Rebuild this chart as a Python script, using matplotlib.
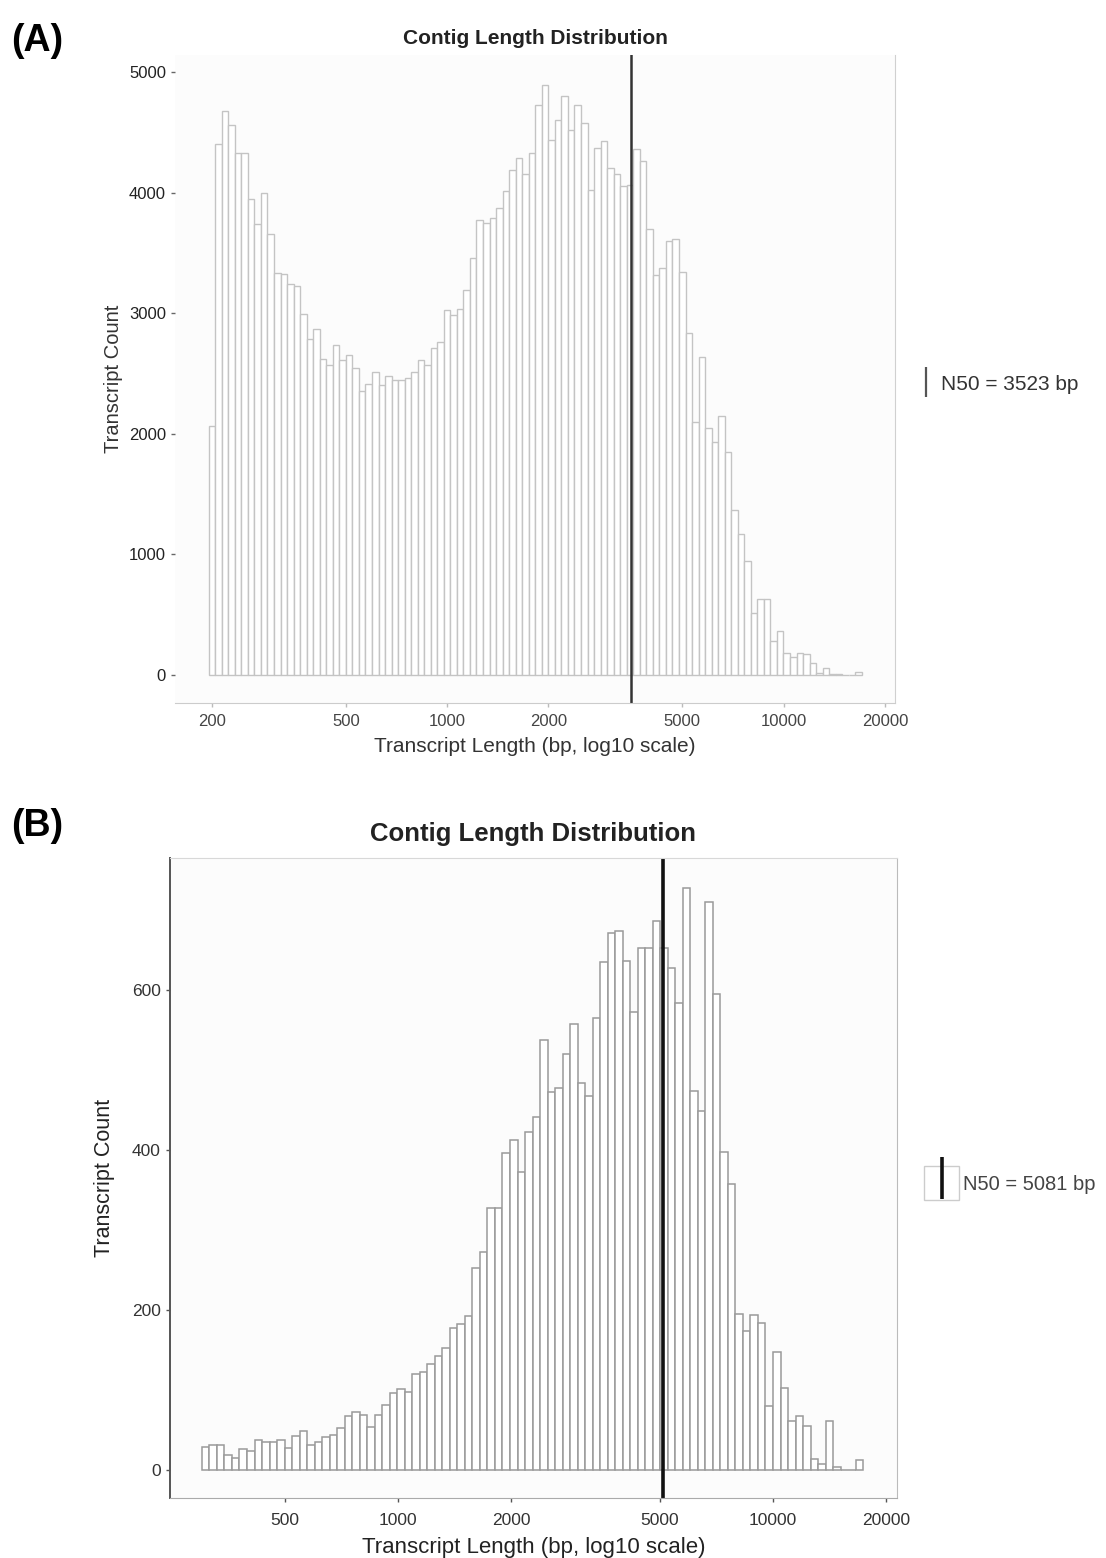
import matplotlib
matplotlib.use("Agg")
import matplotlib.pyplot as plt
import numpy as np
from matplotlib.lines import Line2D
from matplotlib.patches import Rectangle
from matplotlib.legend_handler import HandlerTuple
from matplotlib.ticker import NullLocator

plt.rcParams['font.family'] = ['Liberation Sans', 'DejaVu Sans']

# ---- data ----
# (A) 100 log10 bins, first bin centred on 200 bp, last on ~16.7 kb
a_counts = [2067, 4405, 4675, 4564, 4325, 4325, 3944, 3743, 3998, 3658,
            3330, 3324, 3244, 3228, 2990, 2789, 2872, 2624, 2567, 2735,
            2608, 2656, 2545, 2354, 2417, 2513, 2401, 2481, 2449, 2448,
            2465, 2515, 2615, 2572, 2715, 2765, 3025, 2982, 3038, 3192,
            3458, 3771, 3748, 3791, 3871, 4015, 4191, 4291, 4158, 4325,
            4725, 4891, 4438, 4598, 4805, 4515, 4725, 4581, 4025, 4371,
            4425, 4205, 4158, 4058, 4065, 4365, 4265, 3698, 3315, 3372,
            3598, 3615, 3338, 2832, 2098, 2638, 2048, 1932, 2148, 1848,
            1365, 1165, 948, 515, 632, 632, 282, 365, 182, 148,
            182, 170, 98, 15, 60, 8, 5, 0, 0, 25]
a_min_len = 200
a_max_len = 16700
a_n50 = 3523

# (B) 88 log10 bins, ~307 bp .. ~17 kb
b_counts = [29, 31, 31, 19, 15, 26, 24, 38, 35, 35,
            38, 27, 42, 49, 31, 35, 41, 44, 52, 67,
            73, 69, 54, 69, 81, 96, 101, 98, 120, 123,
            133, 142, 152, 178, 182, 193, 252, 273, 327, 328,
            396, 413, 372, 423, 441, 538, 472, 478, 520, 558,
            484, 468, 565, 635, 671, 674, 636, 572, 653, 653,
            686, 653, 627, 584, 728, 474, 449, 710, 595, 397,
            358, 195, 174, 194, 184, 80, 147, 102, 61, 67,
            55, 14, 7, 61, 4, 0, 0, 13]
b_min_len = 307
b_max_len = 17000
b_n50 = 5081

a_xticks = [200, 500, 1000, 2000, 5000, 10000, 20000]
b_xticks = [500, 1000, 2000, 5000, 10000, 20000]
a_yticks = [0, 1000, 2000, 3000, 4000, 5000]
b_yticks = [0, 200, 400, 600]

title = "Contig Length Distribution"
xlabel = "Transcript Length (bp, log10 scale)"
ylabel = "Transcript Count"


def log_edges(lo, hi, n):
    # ggplot-style: bins centred on min and max
    w = (np.log10(hi) - np.log10(lo)) / (n - 1)
    return 10 ** (np.log10(lo) - w / 2 + w * np.arange(n + 1))


fig = plt.figure(figsize=(11.06, 15.58), dpi=100)

# ---------------- (A) ----------------
axa = fig.add_axes([0.1582, 0.5488, 0.651, 0.4159])
axa.set_facecolor('#fcfcfc')
edges = log_edges(a_min_len, a_max_len, len(a_counts))
axa.bar(edges[:-1], a_counts, width=np.diff(edges), align='edge',
        facecolor='white', edgecolor='#c4c4c4', linewidth=1.0)
axa.axvline(a_n50, color='#333333', linewidth=1.8)
axa.set_xscale('log')
axa.set_xlim(155.3, 21420)
axa.set_ylim(-232, 5141)
axa.xaxis.set_minor_locator(NullLocator())
axa.set_xticks(a_xticks)
axa.set_xticklabels([str(t) for t in a_xticks])
axa.set_yticks(a_yticks)
axa.tick_params(axis='x', labelsize=12, colors='#bbbbbb', labelcolor='#444444',
                length=3, width=1, pad=5)
axa.tick_params(axis='y', labelsize=12, colors='#666666', labelcolor='#222222',
                length=3, width=1)
for s in ['left', 'top']:
    axa.spines[s].set_visible(False)
axa.spines['bottom'].set_color('#cccccc')
axa.spines['right'].set_color('#d0d0d0')
axa.set_title(title, fontsize=15, fontweight='bold', color='#222222', pad=8)
axa.set_xlabel(xlabel, fontsize=15, color='#333333', labelpad=6)
axa.set_ylabel(ylabel, fontsize=14.5, color='#333333', labelpad=4)

la = axa.legend(handles=[Line2D([], [], color='#555555', marker='|',
                                markersize=22, markeredgewidth=1.6,
                                linestyle='None')],
                labels=[f"N50 = {a_n50} bp"], loc='center left',
                bbox_to_anchor=(0.815, 0.7535), bbox_transform=fig.transFigure,
                frameon=False, fontsize=15, handlelength=0.55,
                handletextpad=0.45)
for t in la.get_texts():
    t.set_color('#333333')

# ---------------- (B) ----------------
axb = fig.add_axes([0.1537, 0.0385, 0.6573, 0.4108])
axb.set_facecolor('#fcfcfc')
edges = log_edges(b_min_len, b_max_len, len(b_counts))
axb.bar(edges[:-1], b_counts, width=np.diff(edges), align='edge',
        facecolor='white', edgecolor='#9a9a9a', linewidth=1.1)
axb.axvline(b_n50, color='#111111', linewidth=2.6)
axb.set_xscale('log')
axb.set_xlim(246.6, 21410)
axb.set_ylim(-35, 765)
axb.xaxis.set_minor_locator(NullLocator())
axb.set_xticks(b_xticks)
axb.set_xticklabels([str(t) for t in b_xticks])
axb.set_yticks(b_yticks)
axb.tick_params(axis='both', labelsize=12.5, colors='#555555',
                labelcolor='#333333', length=3, width=1)
axb.tick_params(axis='x', pad=8)
axb.spines['left'].set_color('#555555')
axb.spines['left'].set_linewidth(1.4)
axb.spines['bottom'].set_color('#aaaaaa')
axb.spines['right'].set_color('#bbbbbb')
axb.spines['top'].set_color('#d8d8d8')
axb.set_title(title, fontsize=18.5, fontweight='bold', color='#222222', pad=12)
axb.set_xlabel(xlabel, fontsize=16, color='#222222', labelpad=6)
axb.set_ylabel(ylabel, fontsize=15.5, color='#222222', labelpad=12)

key_box = Rectangle((0, 0), 1, 1, facecolor='white', edgecolor='#cccccc')
key_line = Line2D([], [], color='#111111', marker='|', markersize=30,
                  markeredgewidth=2.6, linestyle='None')
lb = axb.legend(handles=[(key_box, key_line)], labels=[f"N50 = {b_n50} bp"],
                handler_map={tuple: HandlerTuple(ndivide=1)},
                loc='center left', bbox_to_anchor=(0.819, 0.2405),
                bbox_transform=fig.transFigure, frameon=False, fontsize=14.5,
                handlelength=1.75, handleheight=2.2, handletextpad=0.2)
for t in lb.get_texts():
    t.set_color('#444444')

# panel letters
fig.text(0.010, 0.974, "(A)", fontsize=27, fontweight='bold', va='center')
fig.text(0.010, 0.470, "(B)", fontsize=27, fontweight='bold', va='center')

fig.savefig("out.png", dpi=100)
